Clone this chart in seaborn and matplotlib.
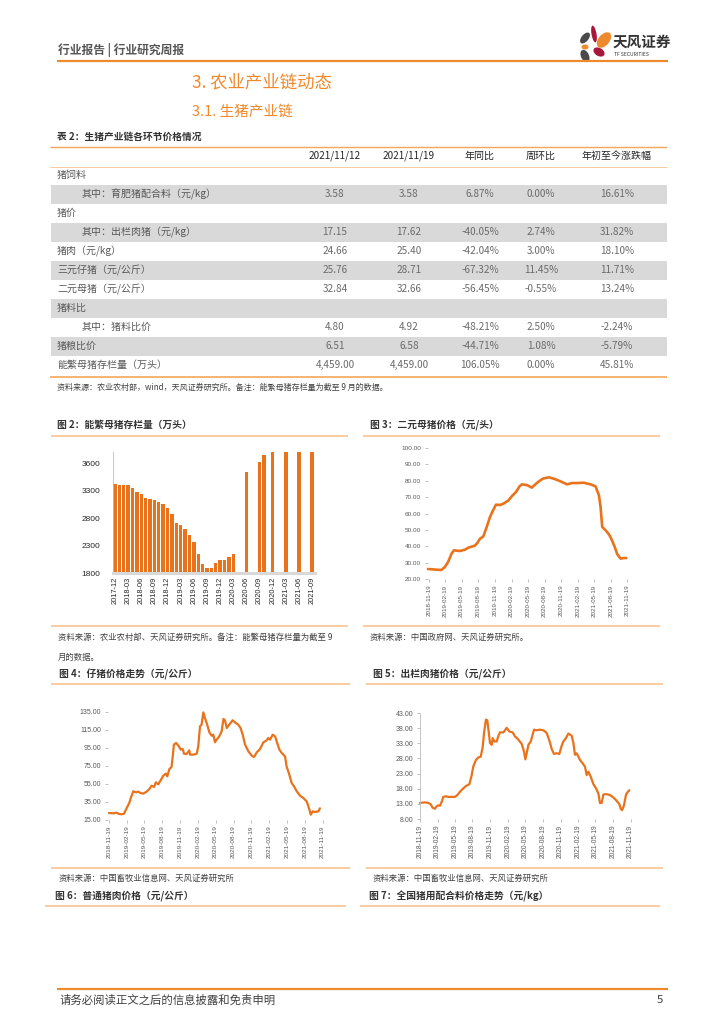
import pandas as pd
import matplotlib
matplotlib.use("Agg")
import matplotlib.pyplot as plt
from matplotlib.patches import Rectangle, Ellipse
import seaborn as sns

sns.set_style("white")
plt.rcParams["font.family"] = ["Noto Sans CJK SC", "DejaVu Sans"]
plt.rcParams["axes.unicode_minus"] = False

# -------------------------
# Data
# -------------------------

# table 2
row_labels = ["猪饲料", "其中：育肥猪配合料（元/kg）", "猪价", "其中：出栏肉猪（元/kg）",
              "猪肉（元/kg）", "三元仔猪（元/公斤）", "二元母猪（元/公斤）", "猪料比",
              "其中：猪料比价", "猪粮比价", "能繁母猪存栏量（万头）"]
row_indent = [0, 1, 0, 1, 0, 0, 0, 0, 1, 0, 0]
col_headers = ["2021/11/12", "2021/11/19", "年同比", "周环比", "年初至今涨跌幅"]
price_1112 = ["", "3.58", "", "17.15", "24.66", "25.76", "32.84", "", "4.80", "6.51", "4,459.00"]
price_1119 = ["", "3.58", "", "17.62", "25.40", "28.71", "32.66", "", "4.92", "6.58", "4,459.00"]
yoy = ["", "6.87%", "", "-40.05%", "-42.04%", "-67.32%", "-56.45%", "", "-48.21%", "-44.71%", "106.05%"]
wow = ["", "0.00%", "", "2.74%", "3.00%", "11.45%", "-0.55%", "", "2.50%", "1.08%", "0.00%"]
ytd = ["", "16.61%", "", "31.82%", "18.10%", "11.71%", "13.24%", "", "-2.24%", "-5.79%", "45.81%"]
shaded_rows = [1, 3, 5, 7, 9]

# fig 2: breeding sow stock (monthly, None = no data)
sow_months = pd.period_range("2017-12", "2021-09", freq="M").strftime("%Y-%m").tolist()
sow_stock = [3424, 3406, 3406, 3406, 3358, 3279, 3242, 3170, 3145, 3133, 3097, 3055,
             2988, 2873, 2721, 2673, 2606, 2497, 2370, 2152, 1958, 1897, 1897, 1982,
             2030, 2042, 2091, 2152, None, None, 3642, None, None, 3830, 3951, None,
             4161, None, None, 4318, None, None, 4564, None, None, 4459]
sow_yticks = [1800, 2300, 2800, 3300, 3800]
sow_yticklabels = ["1800", "2300", "2800", "3300", "3600"]

# fig 3: binary sow price
sow_price_dates = ["2018-11-15", "2018-12-31", "2019-01-28", "2019-02-16", "2019-03-06",
                   "2019-03-25", "2019-04-07", "2019-05-10", "2019-06-07", "2019-06-25",
                   "2019-08-01", "2019-08-14", "2019-08-29", "2019-09-16", "2019-10-05",
                   "2019-10-23", "2019-11-11", "2019-11-25", "2019-12-18", "2020-01-05",
                   "2020-02-02", "2020-02-20", "2020-03-15", "2020-04-03", "2020-04-16",
                   "2020-05-13", "2020-06-10", "2020-06-29", "2020-07-17", "2020-08-10",
                   "2020-09-11", "2020-10-08", "2020-11-14", "2020-12-21", "2021-01-18",
                   "2021-02-15", "2021-03-24", "2021-04-30", "2021-05-27", "2021-06-15",
                   "2021-06-24", "2021-07-03", "2021-07-22", "2021-08-09", "2021-08-22",
                   "2021-09-10", "2021-09-24", "2021-10-13", "2021-10-28", "2021-11-13"]
sow_price = [26.1, 25.7, 25.5, 27.3, 30.4, 35.5, 37.5, 37.1, 37.9, 39.1,
             40.4, 42.0, 44.6, 46.0, 51.8, 57.9, 62.4, 65.4, 65.2, 66.0,
             68.0, 70.5, 73.2, 76.6, 77.8, 77.4, 75.8, 77.8, 79.5, 81.3,
             82.1, 81.3, 79.7, 77.8, 78.6, 78.6, 78.8, 77.8, 76.6, 71.1,
             64.0, 51.8, 49.7, 47.3, 44.6, 39.6, 35.1, 32.4, 32.8, 32.8]

# fig 4: piglet price
piglet_dates = ["2018-11-19", "2018-12-11", "2018-12-28", "2019-01-06", "2019-01-23",
                "2019-02-04", "2019-02-18", "2019-03-03", "2019-03-14", "2019-03-24",
                "2019-04-07", "2019-04-18", "2019-04-30", "2019-05-14", "2019-05-31",
                "2019-06-14", "2019-06-26", "2019-07-08", "2019-07-18", "2019-07-30",
                "2019-08-11", "2019-08-25", "2019-09-07", "2019-09-14", "2019-09-25",
                "2019-10-06", "2019-10-12", "2019-10-18", "2019-10-29", "2019-11-10",
                "2019-11-22", "2019-12-02", "2019-12-09", "2019-12-22", "2020-01-05",
                "2020-01-09", "2020-01-26", "2020-02-12", "2020-02-20", "2020-02-29",
                "2020-03-08", "2020-03-17", "2020-03-25", "2020-04-03", "2020-04-17",
                "2020-04-29", "2020-05-07", "2020-05-16", "2020-05-24", "2020-06-07",
                "2020-06-19", "2020-06-28", "2020-07-06", "2020-07-15", "2020-07-28",
                "2020-08-14", "2020-08-26", "2020-09-12", "2020-09-24", "2020-10-05",
                "2020-10-17", "2020-11-03", "2020-11-20", "2020-12-02", "2020-12-16",
                "2021-01-02", "2021-01-19", "2021-02-05", "2021-02-13", "2021-02-22",
                "2021-03-08", "2021-03-20", "2021-03-28", "2021-04-11", "2021-04-23",
                "2021-05-10", "2021-05-18", "2021-06-01", "2021-06-13", "2021-06-25",
                "2021-07-09", "2021-07-26", "2021-08-12", "2021-08-29", "2021-09-11",
                "2021-09-19", "2021-09-29", "2021-10-11", "2021-10-28", "2021-11-05"]
piglet_price = [22.8, 22.4, 23.1, 22.0, 21.3, 22.0, 28.3, 33.9, 41.3, 46.9,
                45.7, 46.5, 45.0, 44.3, 46.5, 49.4, 53.1, 51.7, 56.9, 54.6,
                59.1, 64.3, 66.5, 63.5, 71.7, 73.9, 85.7, 98.7, 100.6, 97.6,
                93.2, 93.9, 88.7, 88.3, 92.4, 87.6, 87.6, 88.7, 96.9, 119.1,
                120.9, 134.5, 128.3, 122.8, 112.4, 108.7, 109.8, 101.3, 104.3, 108.0,
                113.5, 127.2, 125.8, 117.2, 120.9, 125.8, 123.5, 120.9, 117.2, 109.8,
                98.7, 91.3, 86.5, 85.0, 90.2, 93.9, 101.3, 103.5, 106.1, 104.3,
                109.8, 108.0, 102.4, 93.2, 89.5, 85.7, 74.6, 65.4, 56.1, 52.4,
                46.9, 42.0, 39.4, 35.7, 27.2, 20.9, 24.6, 23.9, 24.6, 28.0]

# fig 5: hog price
hog_dates = ["2018-11-19", "2018-12-15", "2019-01-01", "2019-01-13", "2019-01-24",
             "2019-02-05", "2019-02-14", "2019-02-22", "2019-03-03", "2019-03-12",
             "2019-03-20", "2019-04-03", "2019-04-15", "2019-05-03", "2019-05-20",
             "2019-06-01", "2019-06-15", "2019-07-02", "2019-07-16", "2019-08-03",
             "2019-08-15", "2019-08-23", "2019-09-06", "2019-09-18", "2019-10-01",
             "2019-10-11", "2019-10-18", "2019-10-28", "2019-11-04", "2019-11-11",
             "2019-11-18", "2019-11-27", "2019-12-02", "2019-12-11", "2019-12-23",
             "2019-12-31", "2020-01-09", "2020-01-27", "2020-02-13", "2020-02-27",
             "2020-03-15", "2020-03-27", "2020-04-14", "2020-05-01", "2020-05-13",
             "2020-05-20", "2020-05-27", "2020-06-05", "2020-06-17", "2020-06-27",
             "2020-07-04", "2020-07-18", "2020-08-04", "2020-08-22", "2020-09-08",
             "2020-09-25", "2020-10-04", "2020-10-16", "2020-10-30", "2020-11-13",
             "2020-11-25", "2020-12-04", "2020-12-17", "2020-12-30", "2021-01-16",
             "2021-01-25", "2021-02-02", "2021-02-11", "2021-02-20", "2021-02-28",
             "2021-03-14", "2021-03-26", "2021-04-04", "2021-04-13", "2021-04-25",
             "2021-05-09", "2021-05-23", "2021-06-04", "2021-06-12", "2021-06-21",
             "2021-06-30", "2021-07-17", "2021-08-03", "2021-08-21", "2021-09-04",
             "2021-09-21", "2021-09-28", "2021-10-05", "2021-10-15", "2021-10-26",
             "2021-11-03", "2021-11-12"]
hog_price = [13.3, 13.5, 13.3, 12.9, 11.7, 11.4, 12.2, 12.5, 12.4, 13.7,
             15.3, 15.5, 15.3, 15.3, 15.3, 15.9, 17.0, 18.1, 18.9, 19.5,
             22.5, 25.3, 27.5, 28.3, 28.6, 31.7, 36.4, 40.8, 40.6, 37.0,
             33.1, 32.5, 34.7, 33.6, 33.6, 35.3, 36.6, 36.6, 38.1, 36.9,
             36.6, 35.3, 34.2, 32.8, 30.3, 27.7, 29.7, 32.5, 33.6, 35.8,
             37.5, 37.3, 37.5, 37.3, 36.4, 33.3, 31.1, 29.5, 29.7, 29.5,
             32.2, 33.6, 34.7, 36.2, 35.5, 33.1, 29.2, 29.7, 28.6, 27.5,
             26.4, 25.3, 22.5, 23.6, 22.0, 19.5, 18.1, 16.4, 13.3, 13.3,
             16.1, 16.2, 15.9, 15.1, 14.2, 12.9, 11.4, 10.9, 12.5, 16.1,
             16.9, 17.5]

price_tick_dates = ["2018-11-19", "2019-02-19", "2019-05-19", "2019-08-19", "2019-11-19",
                    "2020-02-19", "2020-05-19", "2020-08-19", "2020-11-19", "2021-02-19",
                    "2021-05-19", "2021-08-19", "2021-11-19"]
sow_price_yticks = [20, 30, 40, 50, 60, 70, 80, 90, 100]
piglet_yticks = [15, 35, 55, 75, 95, 115, 135]
hog_yticks = [8, 13, 18, 23, 28, 33, 38, 43]

# -------------------------
# Page layout (pixel coordinates)
# -------------------------

W, H = 724, 1024
ORANGE = "#EE8A2E"
HEAD_OR = "#F0892B"
LIGHT_OR = "#F8BF88"
PLOT_OR = "#E9731C"
TICK_FONT = "Liberation Sans"

fig = plt.figure(figsize=(W / 100, H / 100), dpi=100)
bg = fig.add_axes([0, 0, 1, 1])
bg.set_xlim(0, W)
bg.set_ylim(H, 0)
bg.axis("off")


def px_axes(left, top, right, bottom):
    return fig.add_axes([left / W, 1 - bottom / H, (right - left) / W, (bottom - top) / H])


def txt(x, y, s, size, color="#404040", weight="normal", ha="left"):
    bg.text(x, y, s, fontsize=size, color=color, fontweight=weight, ha=ha, va="center")


def hline(y, x0, x1, color, lw):
    bg.plot([x0, x1], [y, y], color=color, lw=lw, solid_capstyle="butt")


# header
txt(58, 50, "行业报告 | 行业研究周报", 8.5, "#555555", "bold")
hline(61, 57, 668, ORANGE, 1.6)

# logo
for (cx, cy, w, h, ang, col) in [(594, 34, 5, 17, -10, "#A8173A"), (585, 38, 7, 13, 40, "#4a4a4a"),
                                 (604, 40, 11, 18, 40, "#EE8A2E"), (585, 47, 7, 5, 0, "#EE8A2E"),
                                 (599, 52, 12, 8, 30, "#A8173A"), (585, 56, 8, 13, -25, "#4a4a4a")]:
    bg.add_patch(Ellipse((cx, cy), w, h, angle=ang, color=col, lw=0))
txt(613, 42, "天风证券", 10.5, "#333333", "bold")
txt(614, 55, "TF SECURITIES", 3.6, "#333333")

txt(192, 82, "3. 农业产业链动态", 12.5, HEAD_OR)
txt(192, 112, "3.1. 生猪产业链", 10.5, HEAD_OR)

# -------------------------
# Table 2
# -------------------------

txt(57, 137, "表 2：生猪产业链各环节价格情况", 7, "#333333", "bold")
hline(147, 50, 667, "#F5A55A", 1.0)
hline(166.5, 50, 667, "#F9C9A0", 0.7)

col_x = [335, 409, 480, 541, 617]
for cx, head in zip(col_x, col_headers):
    txt(cx, 156, head, 7.2, "#262626", ha="center")

row_y0, row_h = 175, 19
for i, label in enumerate(row_labels):
    y = row_y0 + i * row_h
    if i in shaded_rows:
        bg.add_patch(Rectangle((51, y - 9), 616, 18.5, color="#D9D9D9", lw=0, zorder=0))
    txt(57 + 25 * row_indent[i], y, label, 7.2, "#595959")
    for cx, col in zip(col_x, [price_1112, price_1119, yoy, wow, ytd]):
        txt(cx, y, col[i], 7.2, "#6b6b6b", ha="center")
hline(377, 50, 667, "#F5A55A", 1.2)
txt(57, 387, "资料来源：农业农村部，wind，天风证券研究所。备注：能繁母猪存栏量为截至 9 月的数据。", 5.8, "#404040")

# -------------------------
# Figure titles, rules and sources
# -------------------------

txt(57, 425, "图 2：能繁母猪存栏量（万头）", 7, "#333333", "bold")
txt(370, 425, "图 3：二元母猪价格（元/头）", 7, "#333333", "bold")
hline(436, 51, 348, LIGHT_OR, 1.1)
hline(436, 363, 660, LIGHT_OR, 1.1)
hline(626, 51, 348, LIGHT_OR, 1.1)
hline(626, 363, 660, LIGHT_OR, 1.1)
txt(58, 637, "资料来源：农业农村部、天风证券研究所。备注：能繁母猪存栏量为截至 9", 6, "#404040")
txt(58, 657, "月的数据。", 6, "#404040")
txt(370, 637, "资料来源：中国政府网、天风证券研究所。", 6, "#404040")

txt(59, 674, "图 4：仔猪价格走势（元/公斤）", 7, "#333333", "bold")
txt(373, 674, "图 5：出栏肉猪价格（元/公斤）", 7, "#333333", "bold")
hline(684, 51, 350, LIGHT_OR, 1.1)
hline(684, 366, 663, LIGHT_OR, 1.1)
hline(868, 51, 350, LIGHT_OR, 1.1)
hline(868, 366, 663, LIGHT_OR, 1.1)
txt(59, 878, "资料来源：中国畜牧业信息网、天风证券研究所", 6, "#404040")
txt(373, 878, "资料来源：中国畜牧业信息网、天风证券研究所", 6, "#404040")

txt(55, 896, "图 6：普通猪肉价格（元/公斤）", 7, "#333333", "bold")
txt(369, 896, "图 7：全国猪用配合料价格走势（元/kg）", 7, "#333333", "bold")
hline(906, 45, 346, LIGHT_OR, 1.1)
hline(906, 360, 660, LIGHT_OR, 1.1)

# footer
hline(989, 57, 668, ORANGE, 1.6)
txt(60, 1000, "请务必阅读正文之后的信息披露和免责申明", 8.2, "#404040")
txt(663, 1000, "5", 8.2, "#404040", ha="right")

# -------------------------
# Figure 2: bar chart
# -------------------------

ax2 = px_axes(113, 452, 315, 573)
df2 = pd.DataFrame({"month": sow_months, "value": sow_stock}).dropna()
df2["value"] = df2["value"].astype(float)
sns.barplot(data=df2, x="month", y="value", order=sow_months, color=PLOT_OR,
            saturation=1, width=0.78, edgecolor="none", linewidth=0, ax=ax2)
ax2.set_ylim(1800, 4010)
ax2.set_xlim(-0.45, len(sow_months) - 0.35)
ax2.set_yticks(sow_yticks)
ax2.set_yticklabels(sow_yticklabels)
ax2.set_xticks(range(0, len(sow_months), 3))
ax2.set_xticklabels(sow_months[::3], rotation=90)
ax2.set_xlabel("")
ax2.set_ylabel("")
ax2.tick_params(axis="y", length=0, pad=9, labelsize=6, labelcolor="#262626", labelfontfamily=TICK_FONT)
ax2.tick_params(axis="x", length=0, pad=3, labelsize=5.3, labelcolor="#262626", labelfontfamily=TICK_FONT)
for s in ["top", "right"]:
    ax2.spines[s].set_visible(False)
ax2.spines["left"].set_color("#BFBFBF")
ax2.spines["left"].set_linewidth(0.6)
ax2.spines["bottom"].set_color("#D9D9D9")
ax2.spines["bottom"].set_linewidth(2.2)
ax2.patch.set_alpha(0)


# -------------------------
# Figures 3-5: price lines
# -------------------------

def price_axes(rect, dates, values, xlim, ylim, yticks, ylabelsize, xlabelsize, lw, left_spine=False):
    ax = px_axes(*rect)
    sns.lineplot(x=pd.to_datetime(dates), y=values, color=PLOT_OR, linewidth=lw, ax=ax)
    ax.set_xlim(pd.Timestamp(xlim[0]), pd.Timestamp(xlim[1]))
    ax.set_ylim(*ylim)
    ax.set_yticks(yticks)
    ax.set_yticklabels([f"{v:.2f}" for v in yticks])
    ax.set_xticks(pd.to_datetime(price_tick_dates))
    ax.set_xticklabels(price_tick_dates, rotation=90)
    ax.set_xlabel("")
    ax.set_ylabel("")
    ax.tick_params(axis="y", length=2, width=0.5, color="#A6A6A6", pad=3, left=True,
                   labelsize=ylabelsize, labelcolor="#595959", labelfontfamily=TICK_FONT)
    ax.tick_params(axis="x", length=2, width=0.5, color="#A6A6A6", pad=2, bottom=True,
                   labelsize=xlabelsize, labelcolor="#595959", labelfontfamily=TICK_FONT)
    for s in ["top", "right", "bottom", "left"]:
        ax.spines[s].set_visible(False)
    if left_spine:
        ax.spines["left"].set_visible(True)
        ax.spines["left"].set_color("#BFBFBF")
        ax.spines["left"].set_linewidth(0.6)
    ax.patch.set_alpha(0)
    for line in ax.lines:
        line.set_clip_on(False)
    return ax


price_axes((428, 448, 628.5, 579), sow_price_dates, sow_price,
           ("2018-11-15", "2021-11-25"), (20, 100), sow_price_yticks, 4.6, 4.5, 1.9)
price_axes((108, 712, 325, 820), piglet_dates, piglet_price,
           ("2018-11-14", "2021-12-01"), (15, 135), piglet_yticks, 5, 4.6, 1.6)
price_axes((420, 713, 633, 819), hog_dates, hog_price,
           ("2018-11-19", "2021-12-01"), (8, 43), hog_yticks, 5, 4.8, 1.6, left_spine=True)

fig.savefig("out.png", dpi=100)
